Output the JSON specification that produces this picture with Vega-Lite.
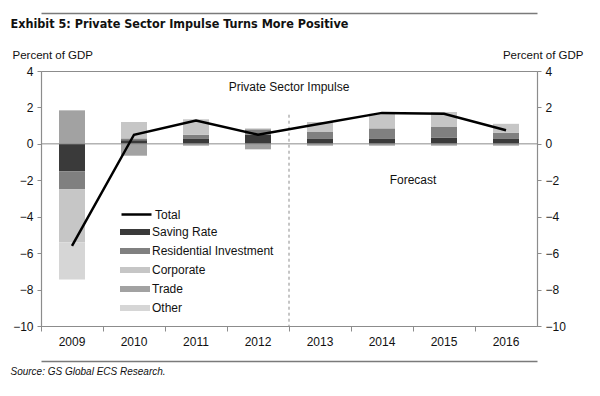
{
  "$schema": "https://vega.github.io/schema/vega-lite/v6.json",
  "width": 496,
  "height": 255,
  "autosize": "none",
  "padding": {"left": 41, "top": 71, "right": 63, "bottom": 70},
  "background": "white",
  "config": {
    "font": "Liberation Sans",
    "view": {"stroke": "#8c8c8c", "strokeWidth": 1},
    "axis": {
      "labelFont": "Liberation Sans", "labelFontSize": 12, "labelColor": "#111",
      "domainColor": "#8c8c8c", "tickColor": "#8c8c8c", "grid": false,
      "titleFont": "Liberation Sans", "titleFontWeight": "normal", "titleFontSize": 11.5, "titleColor": "#111"
    },
    "legend": {"labelFont": "Liberation Sans", "labelFontSize": 12, "labelColor": "#111", "padding": 0}
  },
  "datasets": {
    "bars": [
      {"year": "2009", "series": "Saving Rate", "value": -1.5},
      {"year": "2009", "series": "Residential Investment", "value": -1.0},
      {"year": "2009", "series": "Corporate", "value": -2.9},
      {"year": "2009", "series": "Trade", "value": 1.84},
      {"year": "2009", "series": "Other", "value": -2.05},
      {"year": "2010", "series": "Saving Rate", "value": 0.2},
      {"year": "2010", "series": "Residential Investment", "value": 0.1},
      {"year": "2010", "series": "Corporate", "value": 0.9},
      {"year": "2010", "series": "Trade", "value": -0.65},
      {"year": "2011", "series": "Saving Rate", "value": 0.3},
      {"year": "2011", "series": "Residential Investment", "value": 0.2},
      {"year": "2011", "series": "Corporate", "value": 0.85},
      {"year": "2011", "series": "Trade", "value": -0.1},
      {"year": "2012", "series": "Saving Rate", "value": 0.5},
      {"year": "2012", "series": "Residential Investment", "value": 0.3},
      {"year": "2012", "series": "Corporate", "value": 0.05},
      {"year": "2012", "series": "Trade", "value": -0.3},
      {"year": "2013", "series": "Saving Rate", "value": 0.3},
      {"year": "2013", "series": "Residential Investment", "value": 0.35},
      {"year": "2013", "series": "Corporate", "value": 0.55},
      {"year": "2013", "series": "Trade", "value": -0.1},
      {"year": "2014", "series": "Saving Rate", "value": 0.3},
      {"year": "2014", "series": "Residential Investment", "value": 0.55},
      {"year": "2014", "series": "Corporate", "value": 0.8},
      {"year": "2014", "series": "Trade", "value": -0.1},
      {"year": "2015", "series": "Saving Rate", "value": 0.35},
      {"year": "2015", "series": "Residential Investment", "value": 0.6},
      {"year": "2015", "series": "Corporate", "value": 0.8},
      {"year": "2015", "series": "Trade", "value": -0.1},
      {"year": "2016", "series": "Saving Rate", "value": 0.3},
      {"year": "2016", "series": "Residential Investment", "value": 0.3},
      {"year": "2016", "series": "Corporate", "value": 0.5},
      {"year": "2016", "series": "Trade", "value": -0.1}
    ],
    "total": [
      {"year": "2009", "total": -5.6},
      {"year": "2010", "total": 0.5},
      {"year": "2011", "total": 1.28},
      {"year": "2012", "total": 0.5},
      {"year": "2013", "total": 1.1},
      {"year": "2014", "total": 1.7},
      {"year": "2015", "total": 1.65},
      {"year": "2016", "total": 0.75}
    ]
  },
  "layer": [
    {
      "data": {"name": "bars"},
      "transform": [
        {"calculate": "indexof(['Saving Rate','Residential Investment','Corporate','Trade','Other'], datum.series)", "as": "ord"}
      ],
      "mark": {"type": "bar", "width": 26},
      "encoding": {
        "x": {
          "field": "year", "type": "ordinal",
          "scale": {"paddingInner": 0, "paddingOuter": 0},
          "axis": {"title": null, "labelAngle": 0, "bandPosition": 0, "tickSize": 5, "labelPadding": 5, "domainWidth": 1.2}
        },
        "y": {
          "field": "value", "type": "quantitative", "stack": "zero",
          "scale": {"domain": [-10, 4], "nice": false},
          "axis": {
            "orient": "left", "values": [-10, -8, -6, -4, -2, 0, 2, 4], "format": "d",
            "tickSize": 4, "labelPadding": 4, "domainWidth": 1.2,
            "title": "Percent of GDP", "titleAngle": 0, "titleX": -29, "titleY": -13,
            "titleAlign": "left", "titleBaseline": "alphabetic"
          }
        },
        "order": {"field": "ord", "type": "quantitative"},
        "fill": {
          "field": "series", "type": "nominal",
          "sort": ["Saving Rate", "Residential Investment", "Corporate", "Trade", "Other"],
          "scale": {
            "domain": ["Saving Rate", "Residential Investment", "Corporate", "Trade", "Other"],
            "range": ["#3a3a3a", "#808080", "#c6c6c6", "#a2a2a2", "#d6d6d6"]
          },
          "legend": {
            "title": null, "orient": "none", "legendX": 88, "legendY": 155,
            "symbolType": "M-2.5,-0.5H2.5V0.5H-2.5Z", "symbolSize": 144,
            "symbolStrokeWidth": 0, "labelOffset": 11, "rowPadding": 7
          }
        }
      }
    },
    {
      "data": {"values": [{}]},
      "mark": {"type": "rule", "color": "#8c8c8c", "strokeWidth": 1},
      "encoding": {"y": {"datum": 0, "type": "quantitative", "axis": null}}
    },
    {
      "data": {"values": [{}]},
      "mark": {"type": "rule", "color": "#8c8c8c", "strokeWidth": 1, "strokeDash": [3, 3]},
      "encoding": {
        "x": {"datum": "2013", "type": "ordinal", "bandPosition": 0, "axis": null},
        "y": {"datum": 1.6, "type": "quantitative", "axis": null},
        "y2": {"datum": -10}
      }
    },
    {
      "data": {"name": "total"},
      "mark": {"type": "line", "strokeWidth": 2.5},
      "encoding": {
        "x": {
          "field": "year", "type": "ordinal",
          "axis": {
            "orient": "top", "offset": 58, "labels": false, "ticks": false,
            "domainColor": "#7a7a7a", "domainWidth": 1.5,
            "title": "Exhibit 5: Private Sector Impulse Turns More Positive",
            "titleFont": "DejaVu Sans Condensed",
            "titleFontWeight": "bold", "titleFontSize": 12.5,
            "titleX": -31, "titleY": 14, "titleAlign": "left", "titleBaseline": "alphabetic"
          }
        },
        "y": {
          "field": "total", "type": "quantitative",
          "axis": {
            "orient": "right", "values": [-10, -8, -6, -4, -2, 0, 2, 4], "format": "d",
            "tickSize": 4, "labelPadding": 4, "domainWidth": 1.2,
            "title": "Percent of GDP", "titleAngle": 0, "titleX": 46, "titleY": -13,
            "titleAlign": "right", "titleBaseline": "alphabetic"
          }
        },
        "stroke": {
          "datum": "Total",
          "scale": {"domain": ["Total"], "range": ["#000000"]},
          "legend": {
            "title": null, "orient": "none", "legendX": 88, "legendY": 136,
            "symbolType": "M-2.5,0H2.5", "symbolSize": 144, "symbolStrokeWidth": 2.5,
            "labelOffset": 11
          }
        }
      }
    },
    {
      "data": {"values": [{}]},
      "mark": {"type": "text", "text": "Private Sector Impulse", "fontSize": 12, "font": "Liberation Sans", "color": "#111"},
      "encoding": {
        "x": {
          "datum": "2013", "type": "ordinal", "bandPosition": 0,
          "axis": {
            "orient": "bottom", "offset": 35, "labels": false, "ticks": false,
            "domainColor": "#7a7a7a", "domainWidth": 1.5,
            "title": "Source:  GS Global ECS Research.", "titleFontStyle": "italic", "titleFontSize": 10,
            "titleX": -31, "titleY": 13, "titleAlign": "left", "titleBaseline": "alphabetic"
          }
        },
        "y": {"datum": 3.1, "type": "quantitative", "axis": null}
      }
    },
    {
      "data": {"values": [{}]},
      "mark": {"type": "text", "text": "Forecast", "fontSize": 12, "font": "Liberation Sans", "color": "#111"},
      "encoding": {
        "x": {"datum": "2015", "type": "ordinal", "bandPosition": 0, "axis": null},
        "y": {"datum": -2.0, "type": "quantitative", "axis": null}
      }
    }
  ],
  "resolve": {"axis": {"x": "independent", "y": "independent"}, "legend": {"fill": "independent", "stroke": "independent"}}
}
